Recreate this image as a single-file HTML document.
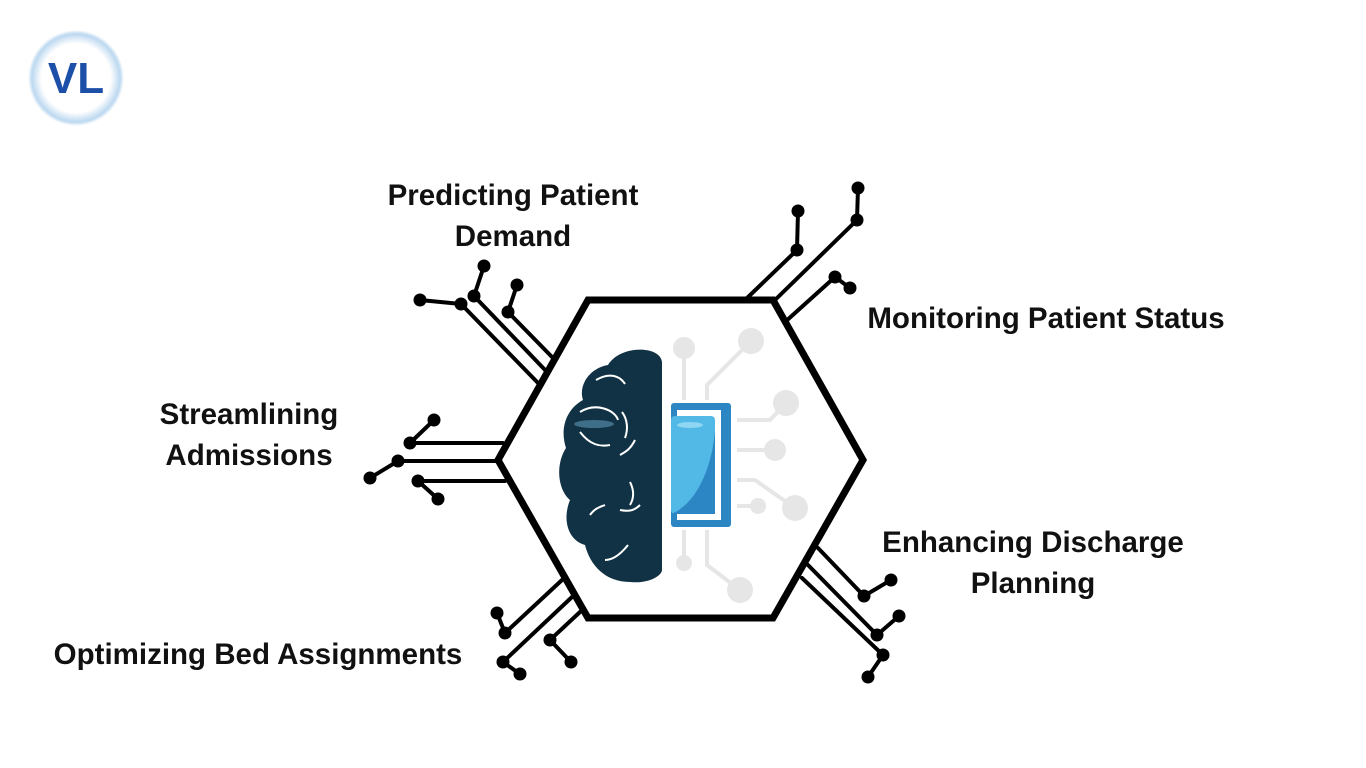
<!DOCTYPE html>
<html><head><meta charset="utf-8"><style>
html,body{margin:0;padding:0;background:#fff;}
body{width:1366px;height:768px;overflow:hidden;position:relative;font-family:"Liberation Sans",sans-serif;}
.t{position:absolute;font-weight:bold;font-size:29.5px;color:#111;text-align:center;line-height:41px;white-space:nowrap;}
</style></head><body>
<svg width="1366" height="768" style="position:absolute;left:0;top:0">
<defs><radialGradient id="lg" cx="50%" cy="50%" r="50%"><stop offset="72%" stop-color="#fff"/><stop offset="92%" stop-color="#bcd8f0"/><stop offset="100%" stop-color="#fff"/></radialGradient></defs>
<circle cx="76" cy="78" r="48" fill="url(#lg)"/>
<text x="76" y="93" text-anchor="middle" font-family="Liberation Sans" font-weight="bold" font-size="44" fill="#1b4fa8">VL</text>
<g stroke="#000" stroke-width="4" fill="none" stroke-linecap="round">
<line x1="540" y1="385" x2="461" y2="304"/><line x1="547" y1="372" x2="474" y2="296"/><line x1="553" y1="358" x2="508" y2="312"/>
<line x1="420" y1="300" x2="461" y2="304"/><line x1="474" y1="296" x2="484" y2="266"/><line x1="508" y1="312" x2="517" y2="285"/>
<line x1="745" y1="300" x2="797" y2="250"/><line x1="775" y1="300" x2="857" y2="220"/><line x1="785" y1="322" x2="835" y2="277"/>
<line x1="797" y1="250" x2="798" y2="211"/><line x1="857" y1="220" x2="858" y2="188"/><line x1="835" y1="277" x2="850" y2="288"/>
<line x1="410" y1="443" x2="503" y2="443"/><line x1="398" y1="461" x2="498" y2="461"/><line x1="418" y1="481" x2="505" y2="481"/>
<line x1="410" y1="443" x2="434" y2="420"/><line x1="398" y1="461" x2="370" y2="478"/><line x1="418" y1="481" x2="438" y2="499"/>
<line x1="562" y1="580" x2="505" y2="633"/><line x1="572" y1="597" x2="503" y2="662"/><line x1="580" y1="612" x2="550" y2="640"/>
<line x1="497" y1="613" x2="505" y2="633"/><line x1="503" y1="662" x2="520" y2="674"/><line x1="550" y1="640" x2="571" y2="662"/>
<line x1="818" y1="548" x2="864" y2="596"/><line x1="808" y1="565" x2="877" y2="635"/><line x1="802" y1="578" x2="883" y2="655"/>
<line x1="864" y1="596" x2="891" y2="580"/><line x1="877" y1="635" x2="899" y2="616"/><line x1="883" y1="655" x2="868" y2="677"/>
</g>
<g fill="#000">
<circle cx="420" cy="300" r="6.5"/><circle cx="461" cy="304" r="6.5"/><circle cx="474" cy="296" r="6.5"/><circle cx="484" cy="266" r="6.5"/><circle cx="508" cy="312" r="6.5"/><circle cx="517" cy="285" r="6.5"/>
<circle cx="797" cy="250" r="6.5"/><circle cx="798" cy="211" r="6.5"/><circle cx="857" cy="220" r="6.5"/><circle cx="858" cy="188" r="6.5"/><circle cx="835" cy="277" r="6.5"/><circle cx="850" cy="288" r="6.5"/>
<circle cx="410" cy="443" r="6.5"/><circle cx="434" cy="420" r="6.5"/><circle cx="398" cy="461" r="6.5"/><circle cx="370" cy="478" r="6.5"/><circle cx="418" cy="481" r="6.5"/><circle cx="438" cy="499" r="6.5"/>
<circle cx="497" cy="613" r="6.5"/><circle cx="505" cy="633" r="6.5"/><circle cx="503" cy="662" r="6.5"/><circle cx="520" cy="674" r="6.5"/><circle cx="550" cy="640" r="6.5"/><circle cx="571" cy="662" r="6.5"/>
<circle cx="864" cy="596" r="6.5"/><circle cx="891" cy="580" r="6.5"/><circle cx="877" cy="635" r="6.5"/><circle cx="899" cy="616" r="6.5"/><circle cx="883" cy="655" r="6.5"/><circle cx="868" cy="677" r="6.5"/>
</g>
<polygon points="588,300 773,300 863,460 773,618 588,618 498,460" fill="#fff" stroke="#000" stroke-width="7" stroke-linejoin="miter"/>
<g stroke="#e6e6e6" stroke-width="4" fill="none">
<line x1="684" y1="350" x2="684" y2="400"/><polyline points="751,341 707,385 707,400"/>
<polyline points="786,403 770,420 737,420"/><line x1="737" y1="450" x2="775" y2="450"/>
<polyline points="737,480 755,480 795,508"/><line x1="737" y1="506" x2="756" y2="506"/>
<line x1="684" y1="530" x2="684" y2="560"/><polyline points="707,530 707,565 740,590"/>
</g>
<g fill="#e6e6e6">
<circle cx="684" cy="348" r="11"/><circle cx="751" cy="341" r="13"/><circle cx="786" cy="403" r="13"/><circle cx="775" cy="450" r="11"/>
<circle cx="795" cy="508" r="13"/><circle cx="758" cy="506" r="8"/><circle cx="684" cy="563" r="8"/><circle cx="740" cy="590" r="13"/>
</g>
<path d="M662,362 C660,345 620,345 608,365 C590,368 578,385 583,400 C565,410 560,430 566,448 C555,465 558,490 570,500 C562,520 568,540 585,545 C590,565 605,582 630,582 C650,584 662,575 662,570 Z" fill="#113245"/>
<ellipse cx="594" cy="424" rx="20" ry="4" fill="#3e6e88"/>
<g stroke="#fff" stroke-width="2" fill="none">
<path d="M596,380 C610,372 620,376 625,384"/><path d="M580,412 C596,402 615,410 618,420"/><path d="M622,412 C628,420 628,430 625,438"/>
<path d="M580,432 C590,445 600,447 610,445"/><path d="M635,440 C630,450 625,452 620,455"/><path d="M630,482 C635,492 633,500 630,505"/>
<path d="M590,515 C595,508 600,507 605,505"/><path d="M620,510 C630,512 635,510 640,505"/><path d="M628,545 C620,555 612,560 605,560"/>
</g>
<rect x="671" y="403" width="60" height="124" rx="3" fill="#2d86c4"/>
<rect x="677" y="410" width="44" height="110" fill="#fff"/>
<rect x="671" y="416" width="44" height="98" rx="4" fill="#52b8e6"/>
<path d="M715,430 C712,470 695,505 671,514 L715,514 Z" fill="#2d86c4"/>
<ellipse cx="690" cy="425" rx="13" ry="3" fill="#8fd6f3"/>
</svg>
<div class="t" style="left:343px;top:175px;width:340px">Predicting Patient<br>Demand</div>
<div class="t" style="left:846px;top:298px;width:400px">Monitoring Patient Status</div>
<div class="t" style="left:119px;top:394px;width:260px">Streamlining<br>Admissions</div>
<div class="t" style="left:833px;top:522px;width:400px">Enhancing Discharge<br>Planning</div>
<div class="t" style="left:18px;top:634px;width:480px">Optimizing Bed Assignments</div>
</body></html>
